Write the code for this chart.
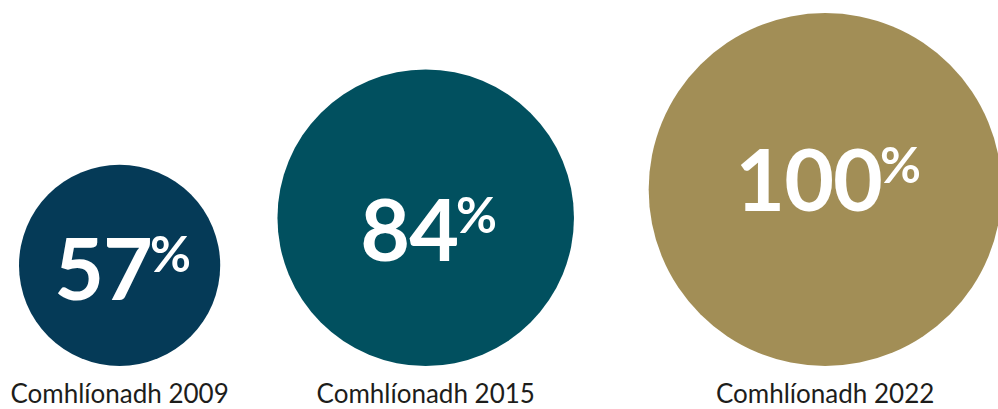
<!DOCTYPE html>
<html>
<head>
<meta charset="utf-8">
<script src="https://cdn.jsdelivr.net/npm/d3@7"></script>
<style>
  body { margin: 0; background: #fff; }
  svg { display: block; }
</style>
</head>
<body>
<div></div>
<script>
// data
var years = ["2009", "2015", "2022"];
var labels = ["Comhlíonadh 2009", "Comhlíonadh 2015", "Comhlíonadh 2022"];
var values = [57, 84, 100];

var width = 998;
var height = 409;
var baseY = 366;      // bottoms of the circles line up here
var leftPad = 19;
var spread = 1.23;    // centre distance relative to sum of radii
var colors = ["#053a57", "#01505f", "#a28e56"];
// vertical nudge of the big number baseline from circle centre
var numDy = [35, 43, 21];

var svg = d3
  .select("body")
  .select("div")
  .append("svg")
  .attr("width", width)
  .attr("height", height);

var rScale = d3
  .scaleLinear()
  .domain([0, 100])
  .range([0, 176.5]);

// work out the centres from the radii
var items = [];
values.forEach(function(v, i) {
  var r = rScale(v);
  var cx;
  if (i == 0) {
    cx = leftPad + r;
  } else {
    var prev = items[i - 1];
    cx = prev.cx + spread * (prev.r + r);
  }
  items.push({ year: years[i], label: labels[i], value: v, r: r, cx: cx, cy: baseY - r });
});

var groups = svg
  .selectAll("g.bubble")
  .data(items)
  .enter()
  .append("g")
  .attr("class", "bubble");

groups
  .append("circle")
  .attr("cx", function(d) { return d.cx; })
  .attr("cy", function(d) { return d.cy; })
  .attr("r", function(d) { return d.r; })
  .style("fill", function(d, i) { return colors[i]; });

var num = groups
  .append("text")
  .attr("x", function(d) { return d.cx + 3; })
  .attr("y", function(d, i) { return d.cy + numDy[i]; })
  .attr("text-anchor", "middle")
  .style("font-family", "Lato, sans-serif")
  .style("font-weight", "bold")
  .style("fill", "#fff");

num
  .append("tspan")
  .style("font-size", "86px")
  .style("letter-spacing", "-1px")
  .text(function(d) { return d.value; });

num
  .append("tspan")
  .attr("dy", -28)
  .attr("dx", -2)
  .style("font-size", "50px")
  .text("%");

groups
  .append("text")
  .attr("x", function(d) { return d.cx; })
  .attr("y", 403)
  .attr("text-anchor", "middle")
  .style("font-family", "Lato, sans-serif")
  .style("font-size", "26px")
  .style("fill", "#1d1d1b")
  .text(function(d) { return d.label; });
</script>
</body>
</html>
